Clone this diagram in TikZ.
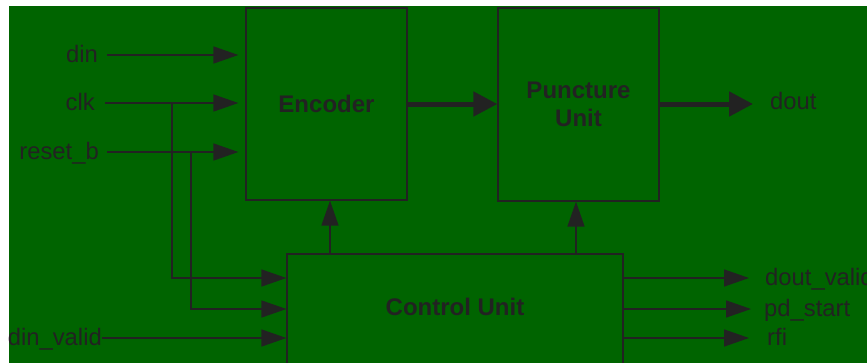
\documentclass[tikz,border=0pt]{standalone}
\usepackage{fontspec}
\setmainfont{Liberation Sans}
\usetikzlibrary{arrows.meta}
\definecolor{bg}{HTML}{006400}
\definecolor{ink}{HTML}{222222}
\tikzset{
  blockbox/.style={draw=ink, line width=1.3pt, inner sep=0pt, text=ink,
    font=\bfseries\fontsize{24}{28}\selectfont, align=center},
  lbl/.style={inner sep=0pt, text=ink, font=\fontsize{23.8}{27}\selectfont,
    text height=17pt, text depth=0pt},
  thin/.style={draw=ink, line width=1.5pt, -{Triangle[length=25pt,width=17pt]}},
  thick/.style={draw=ink, line width=5pt, -{Triangle[length=24pt,width=24pt]}},
}
\begin{document}
\begin{tikzpicture}[x=1pt,y=-1pt]
\useasboundingbox (0,0) rectangle (867,362);
\clip (0,0) rectangle (867,362);
\fill[white] (0,0) rectangle (867,362);
\fill[bg] (9,6) rectangle (868,363);
% blocks
\node[blockbox, minimum width=161pt, minimum height=192pt] (enc) at (326.5,104) {Encoder};
\node[blockbox, minimum width=161pt, minimum height=193pt] (pun) at (578.5,104.5) {Puncture\\Unit};
\node[blockbox, minimum width=336pt, minimum height=110pt] (ctl) at (455,309) {};
\node[blockbox, draw=none] (ctltxt) at (455,307) {Control Unit};
% input labels
\node[lbl, anchor=east] (din) at (98,54) {din};
\node[lbl, anchor=east] (clk) at (95,102) {clk};
\node[lbl, anchor=east] (rst) at (99,151) {reset\_b};
\node[lbl, anchor=east] (dv) at (102,337) {din\_valid};
% output labels
\node[lbl, anchor=west] (dout) at (770,101) {dout};
\node[lbl, anchor=west] (dov) at (765,277) {dout\_valid};
\node[lbl, anchor=west] (pds) at (764,308) {pd\_start};
\node[lbl, anchor=west] (rfi) at (767,337) {rfi};
% coordinates
\coordinate (clkj) at (172,103);
\coordinate (rstj) at (191,152);
\coordinate (clkc) at (172,278);
\coordinate (rstc) at (191,309);
% inputs to encoder
\draw[thin, shorten >=7pt] ([xshift=9pt]din.east |- 0,55) -- (enc.west |- 0,55);
\draw[thin, shorten >=7pt] ([xshift=10pt]clk.east |- 0,103) -- (enc.west |- 0,103);
\draw[thin, shorten >=7pt] ([xshift=8pt]rst.east |- 0,152) -- (enc.west |- 0,152);
% branches to control
\draw[thin] (clkj) -- (clkc) -- (ctl.west |- clkc);
\draw[thin] (rstj) -- (rstc) -- (ctl.west |- rstc);
\draw[thin] (dv.east |- 0,338) -- (ctl.west |- 0,338);
% data path
\draw[thick] (enc.east |- 0,104) -- (pun.west |- 0,104);
\draw[thick] (pun.east |- 0,104) -- ([xshift=-17pt]dout.west |- 0,104);
% control to blocks
\draw[thin] (ctl.north -| 330,0) -- (enc.south -| 330,0);
\draw[thin] (ctl.north -| 576,0) -- (pun.south -| 576,0);
% outputs
\draw[thin] (ctl.east |- 0,278) -- ([xshift=-16pt]dov.west |- 0,278);
\draw[thin] (ctl.east |- 0,309) -- ([xshift=-13pt]pds.west |- 0,309);
\draw[thin] (ctl.east |- 0,338) -- ([xshift=-18pt]rfi.west |- 0,338);
\end{tikzpicture}
\end{document}
